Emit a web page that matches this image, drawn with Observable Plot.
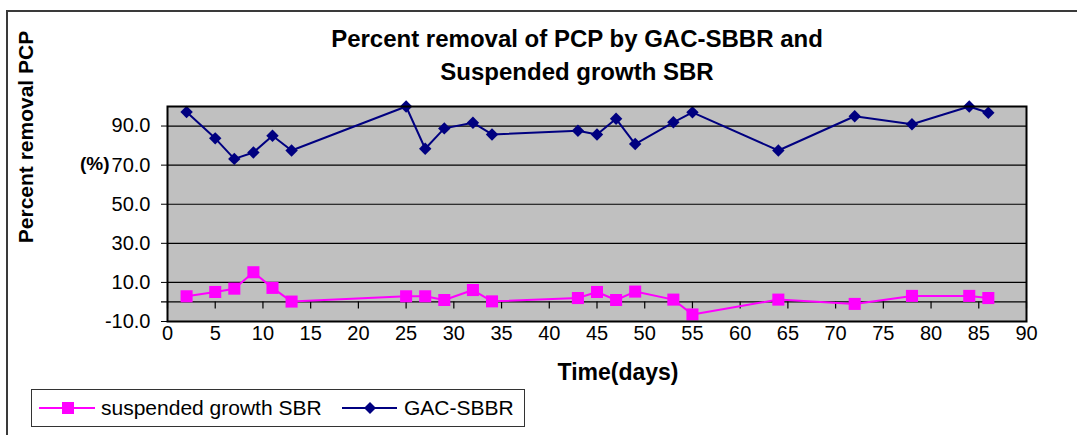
<!DOCTYPE html>
<html>
<head>
<meta charset="utf-8">
<script src="https://cdn.jsdelivr.net/npm/d3@7"></script>
<script src="https://cdn.jsdelivr.net/npm/@observablehq/plot@0.6"></script>
<style>
  html, body { margin: 0; padding: 0; background: #fff; }
  #wrap { position: relative; width: 1077px; height: 435px; overflow: hidden; font-family: "Liberation Sans", Arial, sans-serif; color: #000; }
  #border { position: absolute; left: 6px; top: 10px; width: 1200px; height: 600px; border-left: 2px solid #3a3a3a; border-top: 2px solid #3a3a3a; }
  #chart { position: absolute; left: 0; top: 0; }
  .t { position: absolute; white-space: nowrap; }
  #title { left: 277px; width: 600px; top: 22px; text-align: center; font-weight: bold; font-size: 24px; line-height: 33px; }
  #ytitle { left: 26px; top: 137px; font-weight: bold; font-size: 21px; transform: translate(-50%, -50%) rotate(-90deg); }
  #pct { left: 80px; top: 153px; font-weight: bold; font-size: 19px; }
  #xtitle { left: 618px; top: 361px; transform: translateX(-50%); font-weight: bold; font-size: 23px; line-height: 23px; }
  #legend { position: absolute; left: 31px; top: 389px; width: 492px; height: 36px; border: 1px solid #333; background: #fff; }
  #legend svg { position: absolute; left: 0; top: 0; }
  .lt { position: absolute; top: 6px; font-size: 21px; line-height: 24px; }
</style>
</head>
<body>
<div id="wrap">
  <div id="border"></div>
  <div id="chart"></div>
  <div class="t" id="title">Percent removal of PCP by GAC-SBBR and<br>Suspended growth SBR</div>
  <div class="t" id="ytitle">Percent removal PCP</div>
  <div class="t" id="pct">(%)</div>
  <div class="t" id="xtitle">Time(days)</div>
  <div id="legend"></div>
</div>
<script>
const days = [2, 5, 7, 9, 11, 13, 25, 27, 29, 32, 34, 43, 45, 47, 49, 53, 55, 64, 72, 78, 84, 86];
const gacSbbr = [97.2, 83.7, 73.2, 76.5, 85.0, 77.5, 100.0, 78.4, 88.8, 91.7, 85.7, 87.6, 85.7, 93.7, 80.8, 91.9, 97.0, 77.5, 95.0, 90.9, 100.0, 96.8];
const suspendedSbr = [2.9, 5.1, 6.8, 15.2, 7.2, 0.2, 2.9, 2.9, 1.0, 6.1, 0.3, 2.0, 5.1, 1.0, 5.3, 1.2, -6.4, 1.2, -1.0, 3.1, 3.1, 2.0];
const xTicks = [0, 5, 10, 15, 20, 25, 30, 35, 40, 45, 50, 55, 60, 65, 70, 75, 80, 85, 90];
const yTicks = [-10, 10, 30, 50, 70, 90];
const seriesNames = ["suspended growth SBR", "GAC-SBBR"];

const colSbr = "#FF00FF";
const colGac = "#000080";

const sbrData = days.map((d, i) => ({day: d, value: suspendedSbr[i]}));
const gacData = days.map((d, i) => ({day: d, value: gacSbbr[i]}));
const fmt = d => d3.format(".1f")(d).replace("\u2212", "-");

const chart = Plot.plot({
  width: 1077,
  height: 435,
  marginTop: 106,
  marginBottom: 114,
  marginLeft: 167,
  marginRight: 51,
  x: {domain: [0, 90], label: null},
  y: {domain: [-10, 100], label: null},
  style: {fontFamily: '"Liberation Sans", Arial, sans-serif', fontSize: "20px", color: "#000", background: "transparent", overflow: "visible"},
  marks: [
    Plot.frame({fill: "#C0C0C0"}),
    Plot.ruleY(yTicks.slice(1), {stroke: "#000", strokeWidth: 1.2}),
    Plot.ruleY([0], {stroke: "#000", strokeWidth: 1.2, insetLeft: -6}),
    Plot.ruleX(xTicks, {x: d => d, y1: 0, y2: 0, insetBottom: -7, stroke: "#000", strokeWidth: 1.2}),
    Plot.axisX({ticks: xTicks, tickSize: 0, tickPadding: 4, tickFormat: d => String(d), label: null, fontSize: 20}),
    Plot.axisY({ticks: yTicks, tickSize: 6, tickPadding: 11, tickFormat: fmt, label: null, fontSize: 20}),
    Plot.line(sbrData, {x: "day", y: "value", stroke: colSbr, strokeWidth: 2}),
    Plot.dot(sbrData, {x: "day", y: "value", symbol: "square", r: 6.8, fill: colSbr, stroke: "none"}),
    Plot.line(gacData, {x: "day", y: "value", stroke: colGac, strokeWidth: 2}),
    Plot.dot(gacData, {x: "day", y: "value", symbol: "diamond2", r: 5.6, fill: colGac, stroke: "none"}),
    Plot.frame({stroke: "#000", strokeWidth: 2})
  ]
});
document.getElementById("chart").appendChild(chart);

// legend
const lg = document.getElementById("legend");
const ns = "http://www.w3.org/2000/svg";
const svg = document.createElementNS(ns, "svg");
svg.setAttribute("width", 492); svg.setAttribute("height", 36);
svg.innerHTML =
  `<line x1="7" x2="63" y1="18" y2="18" stroke="${colSbr}" stroke-width="2"/>` +
  `<rect x="30" y="12" width="12" height="12" fill="${colSbr}"/>` +
  `<line x1="310" x2="365" y1="18" y2="18" stroke="${colGac}" stroke-width="2"/>` +
  `<path d="M338,12 L344,18 L338,24 L332,18 Z" fill="${colGac}"/>`;
lg.appendChild(svg);
[[seriesNames[0], 69], [seriesNames[1], 372]].forEach(([txt, x]) => {
  const s = document.createElement("div");
  s.className = "t lt"; s.style.left = x + "px"; s.textContent = txt;
  lg.appendChild(s);
});
</script>
</body>
</html>
